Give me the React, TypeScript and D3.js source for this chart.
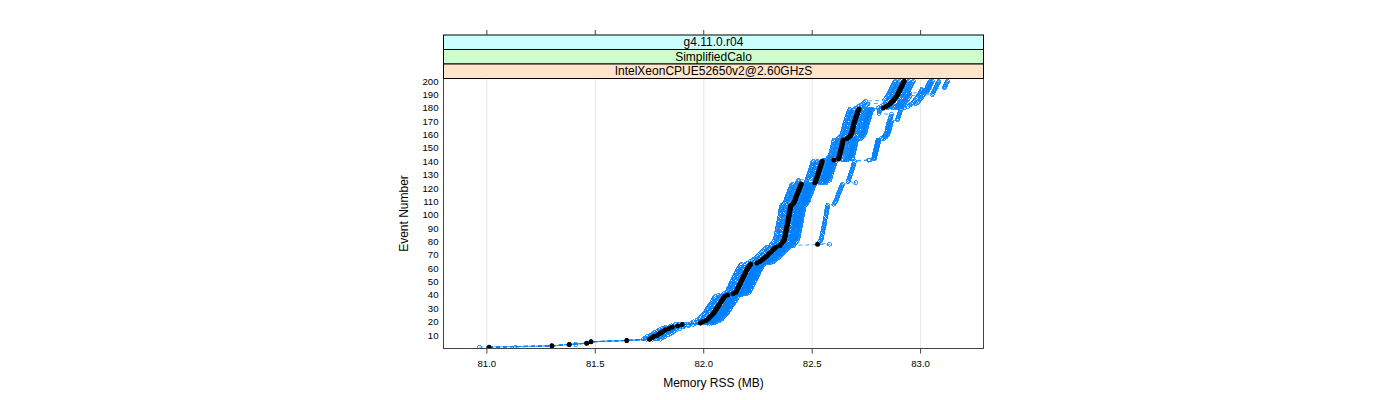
import React from "react";
import * as d3 from "d3";

// Reference run (filled black points): memory RSS (MB) for events 1..200
const refRss: number[] = [
  81.010, 81.300, 81.380, 81.460, 81.480, 81.645, 81.750, 81.760, 81.770, 81.785,
  81.795, 81.805, 81.815, 81.825, 81.840, 81.855, 81.880, 81.900, 81.985, 81.995,
  82.010, 82.020, 82.025, 82.030, 82.038, 82.043, 82.048, 82.052, 82.056, 82.060,
  82.064, 82.068, 82.072, 82.076, 82.080, 82.084, 82.088, 82.092, 82.097, 82.110,
  82.135, 82.148, 82.151, 82.154, 82.157, 82.160, 82.163, 82.166, 82.169, 82.172,
  82.175, 82.178, 82.181, 82.184, 82.187, 82.190, 82.193, 82.196, 82.199, 82.203,
  82.207, 82.211, 82.216, 82.245, 82.258, 82.266, 82.274, 82.282, 82.289, 82.295,
  82.301, 82.308, 82.314, 82.320, 82.327, 82.334, 82.352, 82.525, 82.360, 82.365,
  82.370, 82.372, 82.373, 82.375, 82.376, 82.377, 82.378, 82.380, 82.381, 82.382,
  82.383, 82.385, 82.386, 82.387, 82.388, 82.389, 82.390, 82.391, 82.393, 82.394,
  82.395, 82.396, 82.397, 82.398, 82.399, 82.400, 82.402, 82.410, 82.415, 82.418,
  82.421, 82.423, 82.425, 82.427, 82.430, 82.432, 82.435, 82.437, 82.440, 82.442,
  82.445, 82.447, 82.450, 82.512, 82.516, 82.518, 82.520, 82.522, 82.524, 82.526,
  82.528, 82.530, 82.532, 82.534, 82.536, 82.538, 82.540, 82.542, 82.544, 82.546,
  82.600, 82.622, 82.624, 82.625, 82.627, 82.628, 82.630, 82.631, 82.633, 82.634,
  82.636, 82.637, 82.639, 82.640, 82.641, 82.643, 82.660, 82.668, 82.675, 82.678,
  82.681, 82.683, 82.685, 82.686, 82.688, 82.689, 82.691, 82.692, 82.694, 82.696,
  82.698, 82.700, 82.702, 82.704, 82.706, 82.708, 82.710, 82.712, 82.716, 82.828,
  82.840, 82.850, 82.858, 82.865, 82.871, 82.876, 82.881, 82.886, 82.890, 82.894,
  82.897, 82.900, 82.903, 82.906, 82.909, 82.912, 82.915, 82.918, 82.921, 82.924,
];

// Other runs (open blue circles): offset from the reference run (MB),
// as [fromEvent, offset] breakpoints.
const runOffsets: [number, number][][] = [
  [[1, 0], [7, -0.03], [19, -0.042], [78, -0.212], [79, -0.042], [180, -0.125], [186, -0.042]],
  [[1, 0], [7, -0.015], [19, -0.022], [78, -0.192], [79, -0.022], [124, -0.08], [127, -0.022]],
  [[1, 0.12], [2, 0], [7, 0.015], [19, 0.0], [78, -0.17], [79, 0.0], [180, -0.1], [184, 0.0]],
  [[1, 0], [3, 0.03], [4, 0], [7, 0.03], [19, 0.02], [78, -0.15], [79, 0.02], [141, -0.05], [144, 0.02]],
  [[1, 0], [7, 0.05], [19, 0.042], [78, -0.128], [79, 0.042], [157, 0.02], [160, 0.042]],
  [[1, -0.045], [2, 0], [19, 0.062], [78, -0.108], [79, 0.062], [124, 0.0], [126, 0.062], [190, 0.16]],
  [[1, 0.0], [19, 0.03], [78, 0.055], [79, 0.17], [108, 0.19], [125, 0.15], [141, 0.165], [157, 0.17], [171, 0.195], [180, 0.07], [183, 0.12]],
  [[1, 0.0], [19, 0.032], [78, -0.138], [79, 0.032], [141, 0.16], [158, 0.16], [176, 0.1], [195, 0.2]],
  [[1, 0.0], [19, 0.052], [78, -0.118], [79, 0.052], [192, 0.13]],
];

const xTicks: number[] = [81.0, 81.5, 82.0, 82.5, 83.0];
const yTicks: number[] = [10, 20, 30, 40, 50, 60, 70, 80, 90, 100, 110, 120, 130, 140, 150, 160, 170, 180, 190, 200];
const stripLabels: string[] = ["g4.11.0.r04", "SimplifiedCalo", "IntelXeonCPUE52650v2@2.60GHzS"];
const stripColors: string[] = ["#ccffff", "#ccffcc", "#ffe5cc"];

const X0 = 443.5, X1 = 983.5, Y0 = 78.5, Y1 = 348.5;
const STRIP_H = 14.5;
const FONT = "'Liberation Sans', Arial, Helvetica, sans-serif";

export default function App() {
  const x = d3.scaleLinear().domain([80.8, 83.29]).range([X0, X1]);
  const y = d3.scaleLinear().domain([0, 202]).range([Y1, Y0]);
  const events = refRss.map((_, i) => i + 1);

  const runs = runOffsets.map((bps) =>
    events.map((e, i) => {
      let off = bps[0][1];
      for (const [from, o] of bps) if (e >= from) off = o;
      return { e, v: refRss[i] + off };
    })
  );

  const line = d3
    .line<{ e: number; v: number }>()
    .x((d) => x(d.v))
    .y((d) => y(d.e));

  const stripTop = Y0 - STRIP_H * stripLabels.length;
  const cx = (X0 + X1) / 2;

  return (
    <svg
      width={1400}
      height={400}
      style={{ position: "absolute", left: 0, top: 0, background: "#fff" }}
      fontFamily={FONT}
    >
      <defs>
        <clipPath id="panel">
          <rect x={X0} y={Y0} width={X1 - X0} height={Y1 - Y0} />
        </clipPath>
      </defs>
      {xTicks.map((t) => (
        <line key={"g" + t} x1={x(t)} x2={x(t)} y1={Y0} y2={Y1} stroke="#e6e6e6" strokeWidth={1} />
      ))}
      <g clipPath="url(#panel)">
        {runs.map((r, k) => (
          <path key={"l" + k} d={line(r) || ""} fill="none" stroke="#0080ff" strokeWidth={0.7} strokeDasharray="4,3" />
        ))}
        {runs.map((r, k) => (
          <g key={"c" + k} shapeRendering="crispEdges">
            {r.map((d) => (
              <circle key={d.e} cx={x(d.v)} cy={y(d.e)} r={2.0} fill="none" stroke="#0080ff" strokeWidth={0.8} />
            ))}
          </g>
        ))}
        {refRss.map((v, i) => (
          <circle key={"b" + i} cx={x(v)} cy={y(i + 1)} r={2.5} fill="#000" />
        ))}
      </g>
      <rect x={X0} y={Y0} width={X1 - X0} height={Y1 - Y0} fill="none" stroke="#444" strokeWidth={1} />
      {stripLabels.map((s, i) => (
        <g key={s}>
          <rect x={X0} y={stripTop + i * STRIP_H} width={X1 - X0} height={STRIP_H} fill={stripColors[i]} stroke="#000" strokeWidth={1} />
          <text x={cx} y={stripTop + i * STRIP_H + STRIP_H / 2 + 4.2} textAnchor="middle" fontSize={12}>
            {s}
          </text>
        </g>
      ))}
      {xTicks.map((t) => (
        <g key={"t" + t}>
          <line x1={x(t)} x2={x(t)} y1={Y1} y2={Y1 + 5} stroke="#444" />
          <line x1={x(t)} x2={x(t)} y1={stripTop} y2={stripTop - 5} stroke="#444" />
          <text x={x(t)} y={Y1 + 18.5} textAnchor="middle" fontSize={9.6}>
            {d3.format(".1f")(t)}
          </text>
        </g>
      ))}
      {yTicks.map((t) => (
        <text key={"y" + t} x={X0 - 5} y={y(t) + 3.4} textAnchor="end" fontSize={9.6}>
          {t}
        </text>
      ))}
      <text x={cx} y={387} textAnchor="middle" fontSize={12}>
        Memory RSS (MB)
      </text>
      <text transform={`translate(408, ${(Y0 + Y1) / 2}) rotate(-90)`} textAnchor="middle" fontSize={12}>
        Event Number
      </text>
    </svg>
  );
}
